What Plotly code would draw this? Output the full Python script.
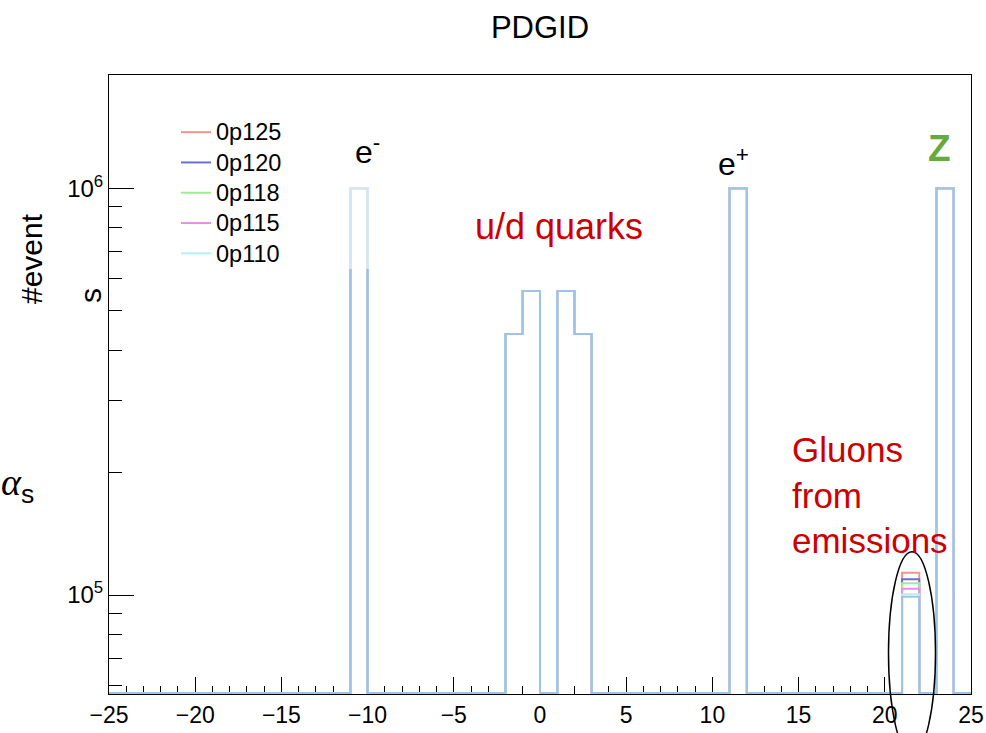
import numpy as np
import plotly.graph_objects as go

# ---------------- data ----------------
x_edges_min, x_edges_max = -25, 25
pdg_ids = [-11, -2, -1, 1, 2, 11, 21, 23]

series_names = ["0p125", "0p120", "0p118", "0p115", "0p110"]
counts_0p125 = [1.0e6, 4.38e5, 5.59e5, 5.59e5, 4.38e5, 1.0e6, 1.134e5, 1.0e6]
counts_0p120 = [1.0e6, 4.38e5, 5.59e5, 5.59e5, 4.38e5, 1.0e6, 1.093e5, 1.0e6]
counts_0p118 = [1.0e6, 4.38e5, 5.59e5, 5.59e5, 4.38e5, 1.0e6, 1.069e5, 1.0e6]
counts_0p115 = [1.0e6, 4.38e5, 5.59e5, 5.59e5, 4.38e5, 1.0e6, 1.036e5, 1.0e6]
counts_0p110 = [1.0e6, 4.38e5, 5.59e5, 5.59e5, 4.38e5, 1.0e6, 1.005e5, 1.0e6]
counts_ref = [1.0e6, 4.38e5, 5.59e5, 5.59e5, 4.38e5, 1.0e6, 0.99e5, 1.0e6]

series_colors = ["#f0968c", "#6e6ed2", "#a0eb96", "#eb8ceb", "#b4f0f0"]
ref_color = "#9fc3e6"

x_tick_step = 5
y_major_ticks = [1e5, 1e6]
y_major_text = ["10<sup>5</sup>", "10<sup>6</sup>"]
y_minor_ticks = [6e4, 7e4, 8e4, 9e4, 2e5, 3e5, 4e5, 5e5, 6e5, 7e5, 8e5, 9e5]

# ---------------- layout geometry ----------------
W, H = 986, 733
L, R, T, B = 109, 15, 75, 39
PW, PH = W - L - R, H - T - B
ylog_min, ylog_max = 4.7566, 6.2786
floor_val = 10 ** (ylog_min + 0.0025)


def px(x, y):
    return (x - L) / PW, (H - B - y) / PH


edges = np.arange(x_edges_min, x_edges_max + 1)
nbins = len(edges) - 1


def hist_y(counts):
    y = np.full(nbins, floor_val)
    for pid, c in zip(pdg_ids, counts):
        y[pid - x_edges_min] = c
    return np.append(y, y[-1])


fig = go.Figure()
all_counts = [counts_0p125, counts_0p120, counts_0p118, counts_0p115, counts_0p110]
for name, cnt, col in zip(series_names, all_counts, series_colors):
    fig.add_trace(go.Scatter(
        x=edges, y=hist_y(cnt), mode="lines", line_shape="hv",
        line=dict(color=col, width=2),
        name="<span style='font-size:23.5px'>%s</span>" % name,
    ))
fig.add_trace(go.Scatter(
    x=edges, y=hist_y(counts_ref), mode="lines", line_shape="hv",
    line=dict(color=ref_color, width=2), showlegend=False, hoverinfo="skip",
))

font_main = "Liberation Sans, Arial, sans-serif"

fig.update_layout(
    width=W, height=H,
    margin=dict(l=L, r=R, t=T, b=B, autoexpand=False),
    paper_bgcolor="white", plot_bgcolor="white",
    font=dict(family=font_main, color="black"),
    title=dict(text="PDGID", x=0.5, xref="paper", y=1 - 27 / H, yanchor="middle",
               xanchor="center", font=dict(size=31, family=font_main, color="black")),
    legend=dict(x=px(176, 0)[0], y=px(0, 112)[1], xanchor="left", yanchor="top",
                bgcolor="rgba(0,0,0,0)", font=dict(size=21, family=font_main),
                traceorder="normal"),
    showlegend=True,
)

fig.update_xaxes(
    range=[x_edges_min, x_edges_max], showgrid=False, zeroline=False, automargin=False,
    showline=True, linecolor="black", linewidth=1, mirror=True,
    ticks="inside", ticklen=17, tickwidth=1, tickcolor="black",
    tick0=0, dtick=x_tick_step, tickfont=dict(size=23, family=font_main),
    minor=dict(ticks="inside", ticklen=8, dtick=1, tickcolor="black", tickwidth=1, showgrid=False),
    layer="below traces",
)
fig.update_yaxes(
    type="log", range=[ylog_min, ylog_max], showgrid=False, zeroline=False, automargin=False,
    showline=True, linecolor="black", linewidth=1, mirror=True,
    ticks="inside", ticklen=25, tickwidth=1, tickcolor="black",
    tickvals=y_major_ticks, ticktext=y_major_text, tickfont=dict(size=24, family=font_main),
    minor=dict(ticks="inside", ticklen=13, tickvals=y_minor_ticks, tickcolor="black", tickwidth=1, showgrid=False),
    layer="below traces",
)

# faded legend box region (semi transparent white)
fx0, fy0 = px(150, 269)
fx1, fy1 = px(385, 100)
fig.add_shape(type="rect", xref="paper", yref="paper", x0=fx0, x1=fx1, y0=fy0, y1=fy1,
              fillcolor="rgba(255,255,255,0.55)", line=dict(width=0), layer="above")

# ellipse around gluon bin
ex0, ey0 = px(888.5, 754.5)
ex1, ey1 = px(935.5, 551.7)
fig.add_shape(type="circle", xref="paper", yref="paper", x0=ex0, x1=ex1, y0=ey0, y1=ey1,
              line=dict(color="black", width=1.5), layer="above")


def ann(text, x, y, size, color="black", xanchor="center", yanchor="middle", angle=0, align="center", bold=False):
    ax, ay = px(x, y)
    fig.add_annotation(text=("<b>%s</b>" % text) if bold else text, x=ax, y=ay, xref="paper", yref="paper",
                       showarrow=False, xanchor=xanchor, yanchor=yanchor, textangle=angle, align=align,
                       font=dict(size=size, color=color, family=font_main))


ann("e<sup>-</sup>", 367, 150, 32)
ann("e<sup>+</sup>", 733, 162, 32)
ann("Z", 939, 148, 37, color="#64aa3c", bold=True)
ann("u/d quarks", 559, 226, 36, color="#cc0000")
ann("Gluons<br>from<br>emissions", 790, 428, 35, color="#cc0000", xanchor="left", yanchor="top", align="left")
ann("#event", 31, 259, 30, angle=-90)
ann("s", 90, 296, 30, angle=-90)
ann("<span style='font-family:Liberation Serif'><i>α</i></span><sub>s</sub>", 17, 485, 38)

fig.write_html("out.html")
